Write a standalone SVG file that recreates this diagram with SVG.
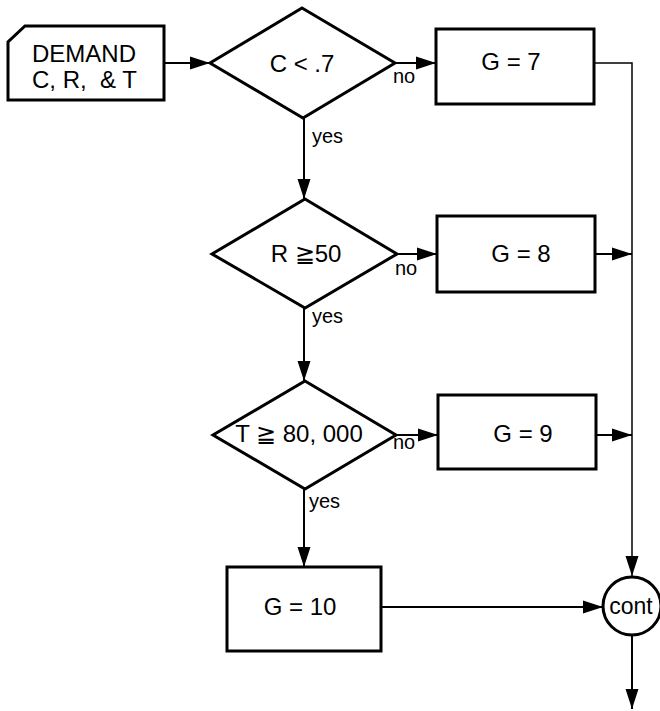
<svg xmlns="http://www.w3.org/2000/svg" width="660" height="711" viewBox="0 0 660 711">
<style>
.shape{fill:#fff;stroke:#000;stroke-width:3;stroke-linejoin:miter}
.conn{fill:none;stroke:#000;stroke-width:2}
.thin{fill:none;stroke:#000;stroke-width:1.5}
.t{font-family:"Liberation Sans",Arial,sans-serif;font-size:24px;fill:#000;white-space:pre}
.c{text-anchor:middle}
.s{font-family:"Liberation Sans",Arial,sans-serif;font-size:20px;fill:#000}
</style>
<defs>
<marker id="ah" markerUnits="userSpaceOnUse" markerWidth="20" markerHeight="14" refX="20" refY="7" orient="auto">
<path d="M0,0.5 L20,7 L0,13.5 z" fill="#000"/>
</marker>
</defs>
<rect width="660" height="711" fill="#fff"/>
<g id="connectors">
<line class="conn" x1="164" y1="63" x2="210" y2="63" marker-end="url(#ah)"/>
<line class="conn" x1="395" y1="63" x2="436" y2="63" marker-end="url(#ah)"/>
<line class="conn" x1="304" y1="118" x2="304" y2="199" marker-end="url(#ah)"/>
<line class="conn" x1="397" y1="254" x2="437" y2="254" marker-end="url(#ah)"/>
<line class="conn" x1="304" y1="308" x2="304" y2="381" marker-end="url(#ah)"/>
<line class="conn" x1="396" y1="435" x2="438" y2="435" marker-end="url(#ah)"/>
<line class="conn" x1="304" y1="489" x2="304" y2="567" marker-end="url(#ah)"/>
<polyline class="thin" points="594,63 632,63 632,576" marker-end="url(#ah)"/>
<line class="conn" x1="595" y1="254" x2="632" y2="254" marker-end="url(#ah)"/>
<line class="conn" x1="596" y1="435" x2="632" y2="435" marker-end="url(#ah)"/>
<line class="conn" x1="381" y1="607" x2="603" y2="607" marker-end="url(#ah)"/>
<line class="conn" x1="632" y1="636" x2="632" y2="709" marker-end="url(#ah)"/>
<text class="s" x="393" y="83">no</text>
<text class="s" x="312" y="143">yes</text>
<text class="s" x="395" y="275">no</text>
<text class="s" x="312" y="323">yes</text>
<text class="s" x="393" y="449">no</text>
<text class="s" x="309" y="508">yes</text>
</g>
<g id="demand">
<path class="shape" d="M25,26 L164,26 L164,100 L8,100 L8,42 Z"/>
<text class="t" x="32" y="62">DEMAND</text>
<text class="t" x="32" y="88">C, R,  &amp; T</text>
</g>
<g id="d1">
<path class="shape" d="M302,8 L395,63 L303,118 L210,63 Z"/>
<text class="t c" x="302" y="72">C &lt; .7</text>
</g>
<g id="g7">
<rect class="shape" x="436" y="29" width="158" height="75"/>
<text class="t c" x="511" y="70">G = 7</text>
</g>
<g id="d2">
<path class="shape" d="M305,199 L397,254 L305,308 L212,254 Z"/>
<text class="t c" x="306" y="262">R ≧50</text>
</g>
<g id="g8">
<rect class="shape" x="437" y="216" width="158" height="76"/>
<text class="t c" x="521" y="262">G = 8</text>
</g>
<g id="d3">
<path class="shape" d="M305,381 L396,435 L305,489 L213,435 Z"/>
<text class="t c" x="299" y="442">T ≧ 80, 000</text>
</g>
<g id="g9">
<rect class="shape" x="438" y="395" width="158" height="74"/>
<text class="t c" x="523" y="442">G = 9</text>
</g>
<g id="g10">
<rect class="shape" x="227" y="567" width="154" height="84"/>
<text class="t c" x="300" y="615">G = 10</text>
</g>
<g id="cont">
<circle class="shape" cx="632" cy="606" r="29"/>
<text class="t c" x="631" y="614" style="font-size:23px">cont</text>
</g>
</svg>
